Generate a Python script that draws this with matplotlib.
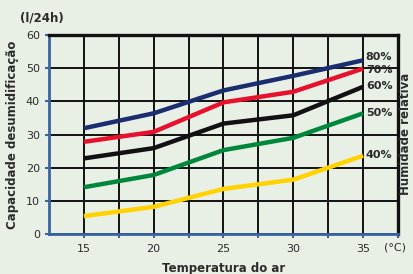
import matplotlib
matplotlib.use("Agg")
import matplotlib.pyplot as plt

# dados
temperatura = [15, 20, 25, 30, 35]
humidade = ["80%", "70%", "60%", "50%", "40%"]
capacidade = {
    "80%": [31.9, 36.4, 43.3, 47.7, 52.4],
    "70%": [27.8, 30.8, 39.7, 42.9, 49.9],
    "60%": [22.8, 25.9, 33.3, 35.8, 44.4],
    "50%": [14.1, 17.8, 25.3, 29.0, 36.4],
    "40%": [5.4, 8.2, 13.6, 16.4, 23.6],
}
cores = {"80%": "#1b2d6e", "70%": "#e8112d", "60%": "#111111",
         "50%": "#00873c", "40%": "#ffd200"}
desvio = {"80%": 0.9, "70%": -0.4, "60%": 0.2, "50%": 0.2, "40%": 0.2}

fundo = "#e8f0e6"
azul = "#3a64a0"
texto = "#2b2b2b"
estreita = ["Liberation Sans Narrow", "DejaVu Sans"]

fig = plt.figure(figsize=(4.13, 2.74), dpi=100, facecolor=fundo)
ax = fig.add_axes([0.1186, 0.146, 0.845, 0.726], facecolor=fundo)

for h in humidade:
    ax.plot(temperatura, capacidade[h], color=cores[h], lw=3.2,
            solid_capstyle="butt", zorder=3)
    ax.text(35.2, capacidade[h][-1] + desvio[h], h, fontsize=8, fontweight="bold",
            family=estreita, color=texto, va="center", ha="left", zorder=4)

ax.set_xlim(12.5, 37.5)
ax.set_ylim(0, 60)
ax.set_xticks([15, 20, 25, 30, 35])
ax.set_xticks([17.5, 22.5, 27.5, 32.5, 37.5], minor=True)
ax.set_yticks(range(0, 61, 10))
ax.grid(True, which="both", axis="x", color="#111111", lw=1.4)
ax.grid(True, which="major", axis="y", color="#111111", lw=1.4)
ax.set_axisbelow(True)

for s in ("left", "bottom"):
    ax.spines[s].set_color(azul)
    ax.spines[s].set_linewidth(2)
for s in ("top", "right"):
    ax.spines[s].set_color("#111111")
    ax.spines[s].set_linewidth(2.4)

ax.tick_params(which="both", colors=azul, width=1.5, length=3, direction="out",
               labelcolor=texto, labelsize=8)
ax.tick_params(axis="x", pad=4)

ax.set_ylabel("Capacidade desumidificação", fontsize=8.5, fontweight="bold",
              family=estreita, color=texto, labelpad=5)
ax.set_xlabel("Temperatura do ar", fontsize=8.5, fontweight="bold",
              family=estreita, color=texto, labelpad=6)
fig.text(0.048, 0.935, "(l/24h)", fontsize=8.5, fontweight="bold",
         family=estreita, color=texto, ha="left", va="center")
fig.text(0.93, 0.095, "(°C)", fontsize=8, color=texto, ha="left", va="center")
fig.text(0.998, 0.51, "Humidade relativa", fontsize=8.5, fontweight="bold",
         family=estreita, color=texto, rotation=90, ha="right", va="center")

fig.savefig("out.png", dpi=100, facecolor=fundo)
